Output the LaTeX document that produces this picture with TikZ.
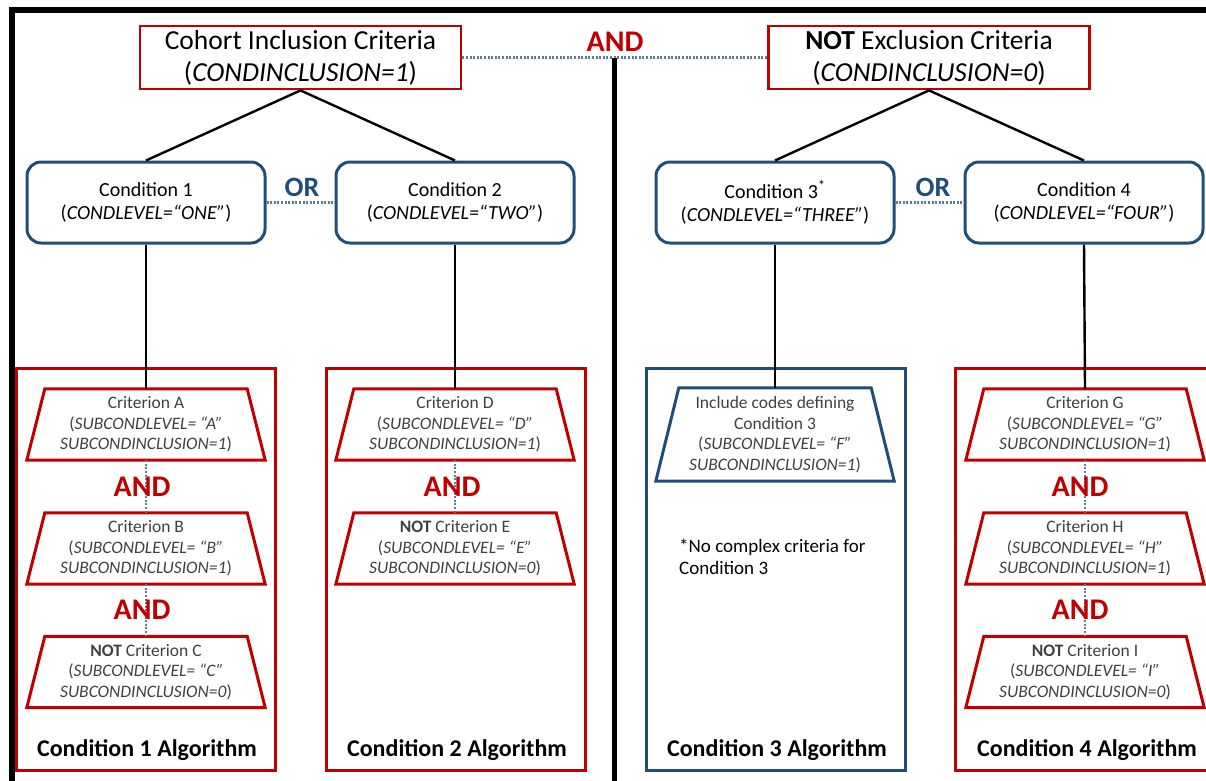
\documentclass[tikz,border=0pt]{standalone}
\usepackage{fontspec}
\setmainfont{Carlito}
\definecolor{cred}{HTML}{C00000}
\definecolor{cblue}{HTML}{1F4E79}
\definecolor{cdot}{HTML}{5A7D9A}
\definecolor{ctext}{HTML}{404040}
\begin{document}
\begin{tikzpicture}[x=1pt,y=-1pt,
  topbox/.style={draw=cred, line width=2.8pt, minimum height=63pt, minimum width=321pt, align=center, inner sep=0pt, font=\fontsize{27.5}{32}\selectfont},
  condbox/.style={draw=cblue, line width=3pt, rounded corners=14pt, minimum width=238pt, minimum height=81pt, align=center, inner sep=0pt, font=\fontsize{20}{23}\selectfont},
  algred/.style={draw=cred, line width=3pt, minimum width=259pt, minimum height=402pt, inner sep=0pt},
  algblue/.style={draw=cblue, line width=3pt, minimum width=259pt, minimum height=402pt, inner sep=0pt},
  crit/.style={minimum width=202pt, minimum height=71pt, inner sep=0pt, align=center, text=ctext, font=\fontsize{17.5}{20.5}\selectfont},
  andlbl/.style={text=cred, font=\fontsize{30}{30}\selectfont\bfseries, inner sep=0pt},
  orlbl/.style={text=cblue, font=\fontsize{28}{30}\selectfont\bfseries, inner sep=0pt},
  algtitle/.style={font=\fontsize{24}{26}\selectfont\bfseries, inner sep=0pt},
  tree/.style={draw=black, line width=2.4pt},
  dots/.style={draw=cdot, line width=2.2pt, dash pattern=on 2pt off 1.6pt},
  trapred/.style={draw=cred, line width=3pt, line join=miter},
  trapblue/.style={draw=cblue, line width=3pt, line join=miter}
]
\useasboundingbox (0,0) rectangle (1206,780);
\clip (0,0) rectangle (1206,780);
\fill[white] (0,0) rectangle (1206,780);

% outer frame
\coordinate (fbl) at (12,800);
\coordinate (ftl) at (12,10);
\coordinate (ftr) at (1230,10);
\draw[line width=5.5pt] (fbl) -- (ftl) -- (ftr);

% algorithm boxes
\node[algred]  (alg1) at (145.5,569) {};
\node[algred]  (alg2) at (455.5,569) {};
\node[algblue] (alg3) at (775.5,569) {};
\node[algred]  (alg4) at (1084.5,569) {};
\node[algtitle] (t1) at (147,750) {Condition 1 Algorithm};
\node[algtitle] (t2) at (457,750) {Condition 2 Algorithm};
\node[algtitle] (t3) at (777,750) {Condition 3 Algorithm};
\node[algtitle] (t4) at (1087,750) {Condition 4 Algorithm};

% top boxes
\node[topbox] (top1) at (300.5,57.5) {Cohort Inclusion Criteria\\(\textit{CONDINCLUSION=1})};
\node[topbox] (top2) at (929,57.5) {\textbf{NOT} Exclusion Criteria\\(\textit{CONDINCLUSION=0})};
\node[andlbl] (andtop) at (615,42) {AND};
\draw[dots] (top1.east) -- (top2.west);
\coordinate (cmid) at (614.5,58);
\coordinate (cbot) at (614.5,800);
\draw[line width=4.5pt] (cmid) -- (cbot);

% condition boxes
\node[condbox] (c1) at (146,202.5) {Condition 1\\(\textit{CONDLEVEL=“ONE”})};
\node[condbox] (c2) at (455,202.5) {Condition 2\\(\textit{CONDLEVEL=“TWO”})};
\node[condbox] (c3) at (775,202.5) {Condition 3\textsuperscript{*}\\(\textit{CONDLEVEL=“THREE”})};
\node[condbox] (c4) at (1084,202.5) {Condition 4\\(\textit{CONDLEVEL=“FOUR”})};
\node[orlbl] (or1) at (302,187) {OR};
\node[orlbl] (or2) at (933,187) {OR};
\draw[dots] (c1.east) -- (c2.west);
\draw[dots] (c3.east) -- (c4.west);

\draw[tree] (top1.south) -- (c1.north);
\draw[tree] (top1.south) -- (c2.north);
\draw[tree] (top2.south) -- (c3.north);
\draw[tree] (top2.south) -- (c4.north);

% criteria
\node[crit] (A) at (146,424.5) {Criterion A\\(\textit{SUBCONDLEVEL= “A”}\\\textit{SUBCONDINCLUSION=1})};
\node[crit] (B) at (146,548.5) {Criterion B\\(\textit{SUBCONDLEVEL= “B”}\\\textit{SUBCONDINCLUSION=1})};
\node[crit] (C) at (146,672) {\textbf{NOT} Criterion C\\(\textit{SUBCONDLEVEL= “C”}\\\textit{SUBCONDINCLUSION=0})};
\node[crit] (D) at (455,424.5) {Criterion D\\(\textit{SUBCONDLEVEL= “D”}\\\textit{SUBCONDINCLUSION=1})};
\node[crit] (E) at (455,548.5) {\textbf{NOT} Criterion E\\(\textit{SUBCONDLEVEL= “E”}\\\textit{SUBCONDINCLUSION=0})};
\node[crit, minimum width=192pt, minimum height=93pt] (F) at (775,434.5) {Include codes defining\\Condition 3\\(\textit{SUBCONDLEVEL= “F”}\\\textit{SUBCONDINCLUSION=1})};
\node[crit] (G) at (1085,424.5) {Criterion G\\(\textit{SUBCONDLEVEL= “G”}\\\textit{SUBCONDINCLUSION=1})};
\node[crit] (H) at (1085,548.5) {Criterion H\\(\textit{SUBCONDLEVEL= “H”}\\\textit{SUBCONDINCLUSION=1})};
\node[crit] (I) at (1085,672) {\textbf{NOT} Criterion I\\(\textit{SUBCONDLEVEL= “I”}\\\textit{SUBCONDINCLUSION=0})};

\foreach \n in {A,B,C,D,E,G,H,I}{
  \draw[trapred] (\n.north west) -- (\n.north east) -- ([xshift=18pt]\n.south east) -- ([xshift=-18pt]\n.south west) -- cycle;
}
\draw[trapblue] (F.north west) -- (F.north east) -- ([xshift=23pt]F.south east) -- ([xshift=-23pt]F.south west) -- cycle;

\node[align=left, anchor=north west, inner sep=0pt, font=\fontsize{19}{22}\selectfont] (note) at (679,539) {*No complex criteria for\\Condition 3};

% AND labels and dotted links
\draw[dots] (A.south) -- (B.north);
\draw[dots] (B.south) -- (C.north);
\draw[dots] (D.south) -- (E.north);
\draw[dots] (G.south) -- (H.north);
\draw[dots] (H.south) -- (I.north);
\node[andlbl] (and1) at (142,487) {AND};
\node[andlbl] (and2) at (142,610) {AND};
\node[andlbl] (and3) at (452,487) {AND};
\node[andlbl] (and4) at (1080,487) {AND};
\node[andlbl] (and5) at (1080,610) {AND};

% vertical tree links
\draw[tree] (c1.south) -- (A.north);
\draw[tree] (c2.south) -- (D.north);
\draw[tree] (c3.south) -- (F.north);
\draw[tree] (c4.south) -- (G.north);
\end{tikzpicture}
\end{document}
